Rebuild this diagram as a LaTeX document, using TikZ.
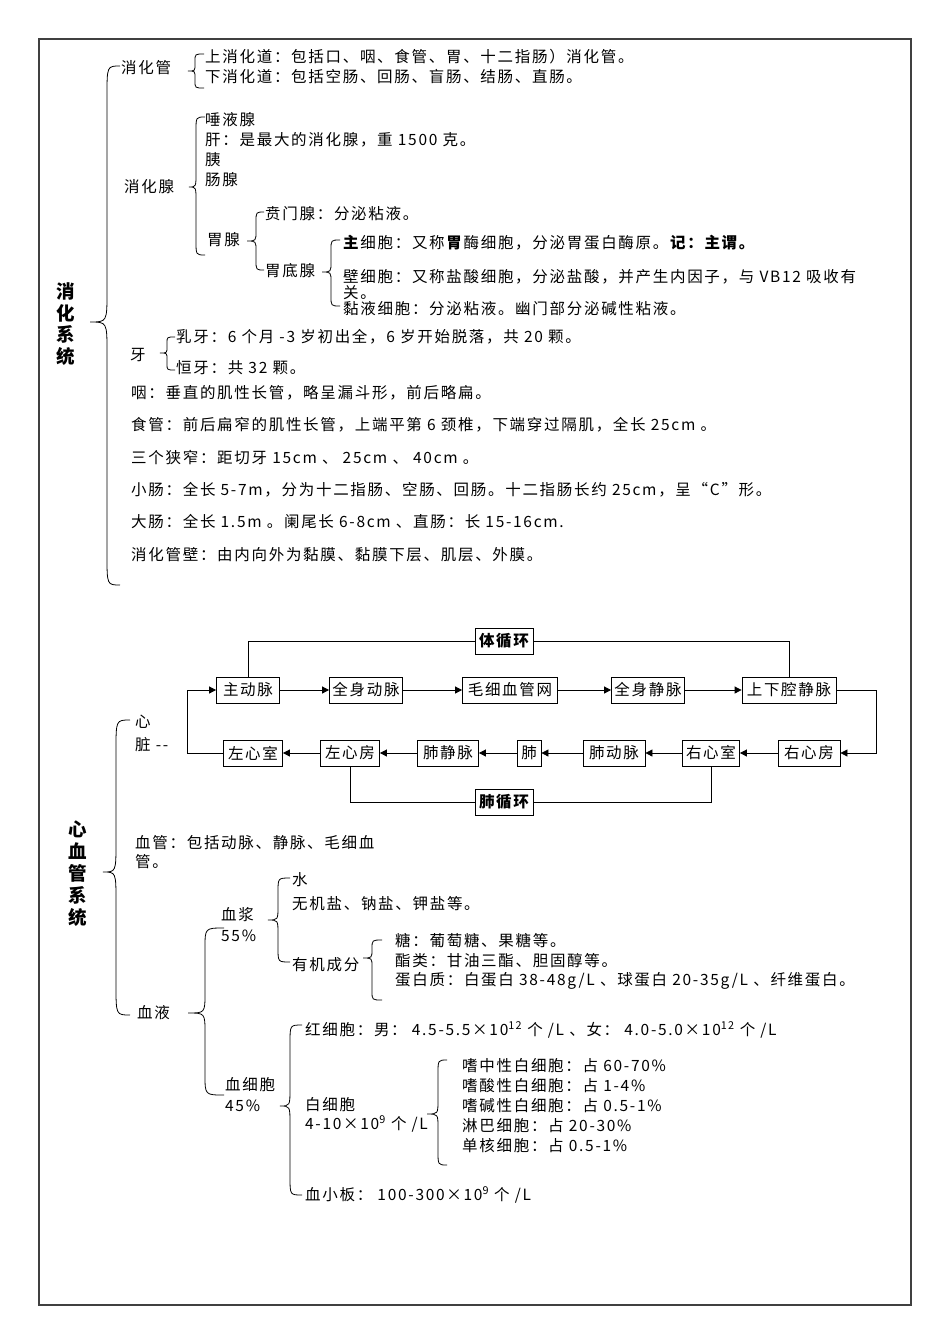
\documentclass[tikz,border=0pt]{standalone}
\usepackage{fontspec}
\setmainfont{Noto Sans CJK SC}[LetterSpace=11]
\usetikzlibrary{arrows.meta}
% brace: #1 x of ends, #2 x of long line, #3 x of tip, #4 y top, #5 y tip, #6 y bottom, #7 radius
\newcommand\mybrc[7]{\draw[brc] (#1,#4) .. controls (#2,#4) .. (#2,#4+#7) -- (#2,#5-#7) .. controls (#2,#5) .. (#3,#5) .. controls (#2,#5) .. (#2,#5+#7) -- (#2,#6-#7) .. controls (#2,#6) .. (#1,#6);}
\begin{document}
\begin{tikzpicture}[x=1pt,y=-1pt,
  every node/.style={font=\fontsize{15.5}{19}\selectfont, inner sep=0pt},
  t/.style={anchor=west},
  vlab/.style={align=center, font=\fontsize{18.5}{21.5}\selectfont\bfseries},
  box/.style={draw, line width=0.8pt, minimum height=26pt, minimum width=#1},
  bbox/.style={draw, line width=0.8pt, minimum height=26pt, minimum width=#1, font=\fontsize{15.5}{19}\selectfont\bfseries},
  arr/.style={line width=0.8pt, -{Triangle[length=7pt,width=7pt]}},
  ln/.style={line width=0.8pt},
  brc/.style={line width=0.8pt}]
\useasboundingbox (0,0) rectangle (950,1344);
\draw[line width=1.2pt, black!75] (39,39) rectangle (911,1305);

% ---------------- 消化系统 ----------------
\node[vlab] (L1) at (66,324) {消\\化\\系\\统};
\mybrc{120}{107}{90}{66}{322}{585}{30}

\node[t] (a1) at (121,68) {消化管};
\mybrc{204}{195}{188}{54}{71}{88}{7}
\node[t] (a2) at (205,57) {上消化道：包括口、咽、食管、胃、十二指肠）消化管。};
\node[t] (a3) at (205,77) {下消化道：包括空肠、回肠、盲肠、结肠、直肠。};

\node[t] (b1) at (124,187) {消化腺};
\mybrc{205}{196}{189}{117}{187}{255}{14}
\node[t] (b2) at (205,120) {唾液腺};
\node[t] (b3) at (205,140) {肝：是最大的消化腺，重 1500 克。};
\node[t] (b4) at (205,160) {胰};
\node[t] (b5) at (205,180) {肠腺};

\node[t] (c1) at (207,240) {胃腺};
\mybrc{264}{256}{247}{212}{241}{270}{10}
\node[t] (c2) at (265,214) {贲门腺：分泌粘液。};
\node[t] (c3) at (265,271) {胃底腺};

\mybrc{340}{331}{322}{240}{272}{306}{10}
\node[t] (d1) at (343,243) {\textbf{主}细胞：又称\textbf{胃}酶细胞，分泌胃蛋白酶原。\textbf{记：主谓。}};
\node[t] (d2) at (343,277) {壁细胞：又称盐酸细胞，分泌盐酸，并产生内因子，与 VB12 吸收有};
\node[t] (d3) at (343,293) {关。};
\node[t] (d4) at (343,309) {黏液细胞：分泌粘液。幽门部分泌碱性粘液。};

\node[t] (e1) at (130,355) {牙};
\mybrc{175}{167}{160}{337}{353}{370}{6}
\node[t] (e2) at (176,337) {乳牙：6 个月 -3 岁初出全，6 岁开始脱落，共 20 颗。};
\node[t] (e3) at (176,368) {恒牙：共 32 颗。};

\node[t] (f1) at (131,393) {咽：垂直的肌性长管，略呈漏斗形，前后略扁。};
\node[t] (f2) at (131,425) {食管：前后扁窄的肌性长管，上端平第 6 颈椎，下端穿过隔肌，全长 25cm 。};
\node[t] (f3) at (131,458) {三个狭窄：距切牙 15cm 、 25cm 、 40cm 。};
\node[t] (f4) at (131,490) {小肠：全长 5-7m，分为十二指肠、空肠、回肠。十二指肠长约 25cm，呈“C”形。};
\node[t] (f5) at (131,522) {大肠：全长 1.5m 。阑尾长 6-8cm 、直肠：长 15-16cm.};
\node[t] (f6) at (131,555) {消化管壁：由内向外为黏膜、黏膜下层、肌层、外膜。};

% ---------------- 心血管系统 ----------------
\node[vlab, font=\fontsize{18.5}{22}\selectfont\bfseries] (L2) at (78,874) {心\\血\\管\\系\\统};
\mybrc{130}{116}{103}{720}{872}{1015}{30}

\node[t] (g1) at (135,722) {心};
\node[t] (g2) at (135,745) {脏 -{}-};

% circulation
\node[bbox=58] (txh) at (504,641) {体循环};
\node[box=63] (zdm) at (248,690) {主动脉};
\node[box=73] (qsdm) at (366,690) {全身动脉};
\node[box=95] (mxw) at (510,690) {毛细血管网};
\node[box=73] (qsjm) at (648,690) {全身静脉};
\node[box=94] (sxq) at (789,690) {上下腔静脉};
\node[box=59] (zxs) at (253,753) {左心室};
\node[box=59] (zxf) at (350,753) {左心房};
\node[box=61] (fjm) at (448,753) {肺静脉};
\node[box=24] (fei) at (529,753) {肺};
\node[box=62] (fdm) at (614,753) {肺动脉};
\node[box=57] (yxs) at (711,753) {右心室};
\node[box=62] (yxf) at (809,753) {右心房};
\node[bbox=58] (fxh) at (504,802) {肺循环};

\draw[arr] (zdm) -- (qsdm);
\draw[arr] (qsdm) -- (mxw);
\draw[arr] (mxw) -- (qsjm);
\draw[arr] (qsjm) -- (sxq);
\draw[arr] (sxq.east) -- ++(40,0) |- (yxf.east);
\draw[arr] (yxf) -- (yxs);
\draw[arr] (yxs) -- (fdm);
\draw[arr] (fdm) -- (fei);
\draw[arr] (fei) -- (fjm);
\draw[arr] (fjm) -- (zxf);
\draw[arr] (zxf) -- (zxs);
\draw[arr] (zxs.west) -- ++(-36,0) |- (zdm.west);
\draw[ln] (zdm.north) |- (txh.west);
\draw[ln] (txh.east) -| (sxq.north);
\draw[ln] (zxf.south) |- (fxh.west);
\draw[ln] (fxh.east) -| (yxs.south);

\node[t] (h1) at (135,843) {血管：包括动脉、静脉、毛细血};
\node[t] (h2) at (135,862) {管。};

\node[t] (i1) at (137,1013) {血液};
\mybrc{224}{205}{188}{928}{1013}{1095}{20}

\node[t] (j1) at (221,915) {血浆};
\node[t] (j2) at (221,936) {55\%};
\mybrc{290}{278}{268}{878}{920}{962}{14}
\node[t] (k1) at (292,880) {水};
\node[t] (k2) at (292,904) {无机盐、钠盐、钾盐等。};
\node[t] (k3) at (292,965) {有机成分};
\mybrc{382}{372}{363}{940}{958}{1000}{9}
\node[t] (l1) at (395,941) {糖：葡萄糖、果糖等。};
\node[t] (l2) at (395,961) {酯类：甘油三酯、胆固醇等。};
\node[t] (l3) at (395,981) {蛋白质：白蛋白 38-48g/L 、球蛋白 20-35g/L 、纤维蛋白。};

\node[t] (m1) at (225,1085) {血细胞};
\node[t] (m2) at (225,1106) {45\%};
\mybrc{302}{290}{280}{1025}{1106}{1195}{18}
\node[t] (n1) at (305,1030) {红细胞：男： 4.5-5.5×10\textsuperscript{12} 个 /L 、女： 4.0-5.0×10\textsuperscript{12} 个 /L};
\node[t] (n2) at (305,1105) {白细胞};
\node[t] (n3) at (305,1124) {4-10×10\textsuperscript{9} 个 /L};
\mybrc{447}{438}{427}{1060}{1114}{1165}{14}
\node[t] (o1) at (462,1066) {嗜中性白细胞：占 60-70\%};
\node[t] (o2) at (462,1086) {嗜酸性白细胞：占 1-4\%};
\node[t] (o3) at (462,1106) {嗜碱性白细胞：占 0.5-1\%};
\node[t] (o4) at (462,1126) {淋巴细胞：占 20-30\%};
\node[t] (o5) at (462,1146) {单核细胞：占 0.5-1\%};
\node[t] (n4) at (305,1195) {血小板： 100-300×10\textsuperscript{9} 个 /L};
\end{tikzpicture}
\end{document}
